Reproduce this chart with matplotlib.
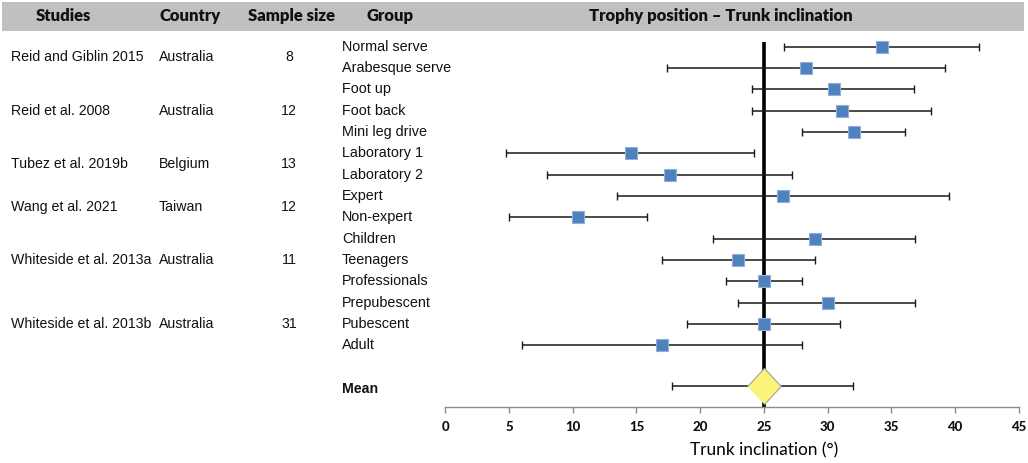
import numpy as np
import matplotlib
matplotlib.use("Agg")
import matplotlib.pyplot as plt
import matplotlib.transforms as mtransforms
from matplotlib.patches import Rectangle

# Study table
studies = ["Reid and Giblin 2015", "Reid et al. 2008", "Tubez et al. 2019b",
           "Wang et al. 2021", "Whiteside et al. 2013a", "Whiteside et al. 2013b"]
countries = ["Australia", "Australia", "Belgium", "Taiwan", "Australia", "Australia"]
sample_sizes = [8, 12, 13, 12, 11, 31]
groups_per_study = [2, 3, 2, 2, 3, 3]

# Group rows (trunk inclination, degrees)
groups = ["Normal serve", "Arabesque serve", "Foot up", "Foot back", "Mini leg drive",
          "Laboratory 1", "Laboratory 2", "Expert", "Non-expert", "Children",
          "Teenagers", "Professionals", "Prepubescent", "Pubescent", "Adult"]
means = [34.3, 28.3, 30.5, 31.1, 32.1, 14.6, 17.6, 26.5, 10.4, 29.0, 23.0, 25.0, 30.0, 25.0, 17.0]
lower = [26.6, 17.4, 24.1, 24.1, 28.0, 4.8, 8.0, 13.5, 5.0, 21.0, 17.0, 22.0, 23.0, 19.0, 6.0]
upper = [41.9, 39.2, 36.8, 38.1, 36.1, 24.2, 27.2, 39.5, 15.8, 36.9, 29.0, 28.0, 36.9, 31.0, 28.0]

pooled_mean = 25.0
pooled_lower = 17.8
pooled_upper = 32.0

x_ticks = list(range(0, 46, 5))

W, H = 1028, 463
fig = plt.figure(figsize=(W / 100, H / 100), dpi=100)

# forest axes: x 0..45 -> px 445..1019, bottom spine at y px 407
ax = fig.add_axes([445.3 / W, 1 - 407 / H, 573.4 / W, (407 - 36) / H])
ax.set_xlim(0, 45)
mean_row = 15.9
ax.set_ylim(16.9, -0.5)

rows = np.arange(len(groups))
means = np.array(means)
xerr = np.array([means - np.array(lower), np.array(upper) - means])

ax.vlines(pooled_mean, -0.2, 16.9, color="black", lw=2.6, zorder=2)
ax.errorbar(means, rows, xerr=xerr, fmt="none", ecolor="#1a1a1a", elinewidth=1.1,
            capsize=3, capthick=1.0, zorder=3)
ax.plot(means, rows, "s", ms=8.3, mfc="#4f81bd", mec="#8fb0dc", mew=0.8, zorder=4)

ax.errorbar([pooled_mean], [mean_row],
            xerr=[[pooled_mean - pooled_lower], [pooled_upper - pooled_mean]],
            fmt="none", ecolor="#1a1a1a", elinewidth=1.1, capsize=3, capthick=1.0, zorder=3)
ax.plot([pooled_mean], [mean_row], marker=[(-1, 0), (0, 1.08), (1, 0), (0, -1.08)],
        ms=26, mfc="#fbf37a", mec="#a0a0a0", mew=0.8, zorder=5)

for s in ["left", "right", "top"]:
    ax.spines[s].set_visible(False)
ax.spines["bottom"].set_color("#8c8c8c")
ax.spines["bottom"].set_linewidth(1.0)
ax.set_yticks([])
ax.set_xticks(x_ticks)
ax.set_xticklabels([str(t) for t in x_ticks], fontfamily="Lato", fontweight="black",
                   fontsize=9.5, color="#111111")
ax.tick_params(axis="x", direction="out", length=4, width=1.0, color="#8c8c8c", pad=6)
ax.set_xlabel("Trunk inclination (°)", fontfamily="Lato", fontsize=12.4, labelpad=7)
ax.xaxis.label.set_x(pooled_mean / 45)

# header band
fig.patches.append(Rectangle((2 / W, 1 - 31 / H), 1022 / W, 29 / H,
                             transform=fig.transFigure, facecolor="#c0c0c0",
                             edgecolor="none", zorder=0))
hdr = dict(fontfamily="Lato", fontweight="heavy", fontsize=12, va="center",
           color="#111111")
hy = 1 - 16 / H
fig.text(63 / W, hy, "Studies", ha="center", **hdr)
fig.text(190 / W, hy, "Country", ha="center", **hdr)
fig.text(292 / W, hy, "Sample size", ha="center", **hdr)
fig.text(390 / W, hy, "Group", ha="center", **hdr)
fig.text(721 / W, hy, "Trophy position \u2013 Trunk inclination", ha="center", **hdr)

# table text: x in figure fraction, y in data rows
tr = mtransforms.blended_transform_factory(fig.transFigure, ax.transData)
body = dict(fontfamily="Liberation Sans", fontsize=10.2, va="center", transform=tr,
            color="#111111")
start = 0
for study, country, n, k in zip(studies, countries, sample_sizes, groups_per_study):
    yc = start + (k - 1) / 2
    ax.text(11 / W, yc, study, ha="left", **body)
    ax.text(159 / W, yc, country, ha="left", **body)
    ax.text(289 / W, yc, str(n), ha="center", **body)
    start += k
for r, g in zip(rows, groups):
    ax.text(342 / W, r, g, ha="left", fontsize=10.4,
            **{k: v for k, v in body.items() if k != "fontsize"})
ax.text(342 / W, mean_row + 0.15, "Mean", ha="left", fontweight="bold", **body)

fig.savefig("out.png", dpi=100)
